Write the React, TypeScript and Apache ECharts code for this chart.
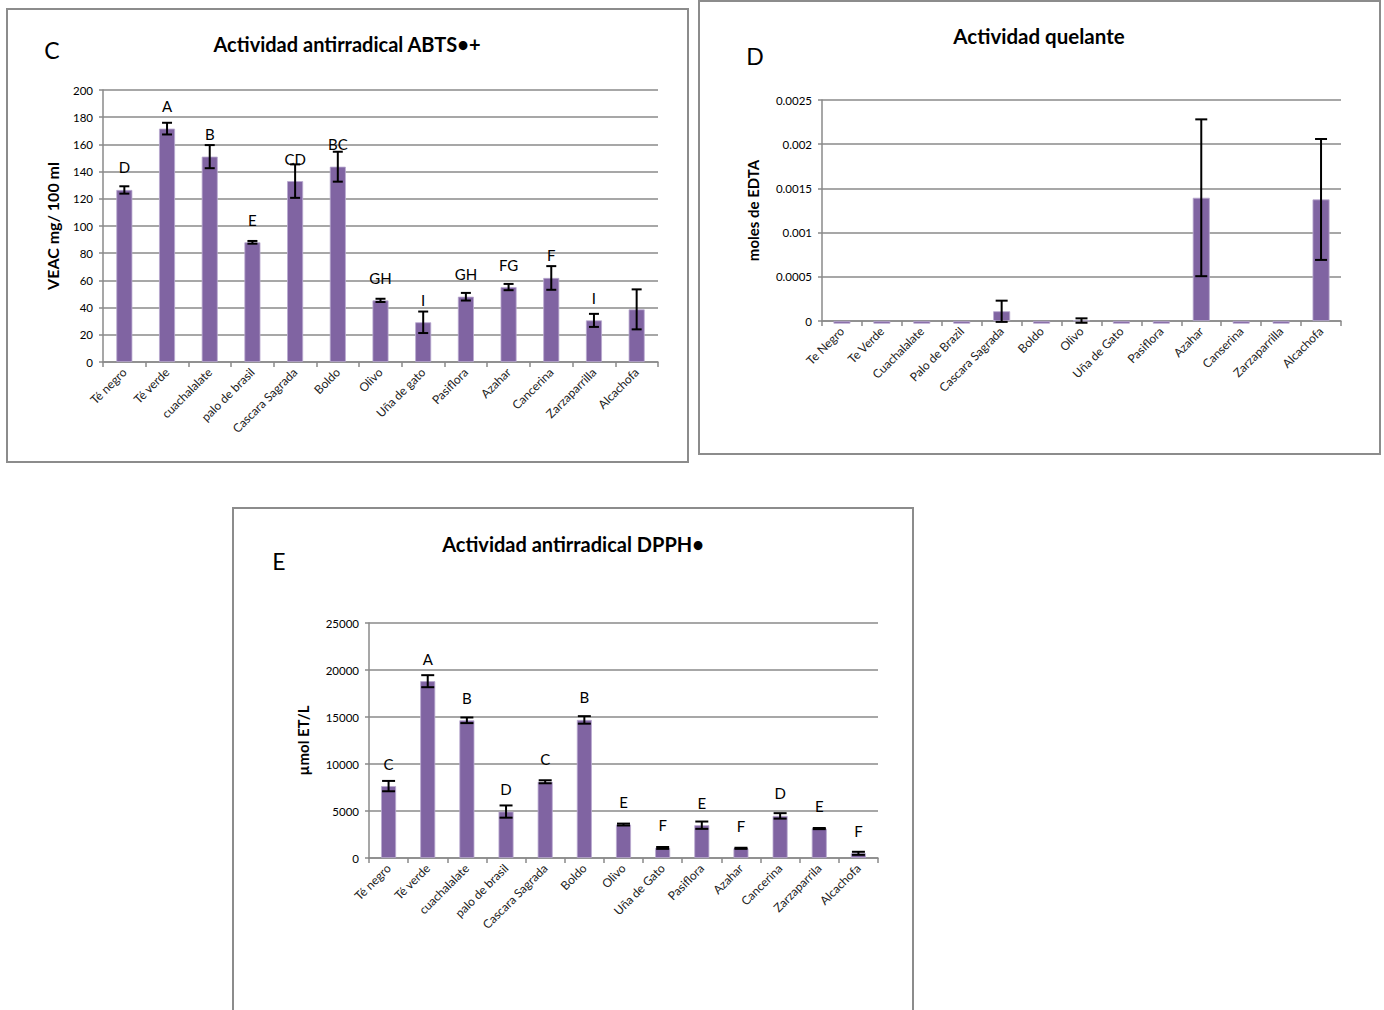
import React, { useEffect, useRef } from "react";
import * as echarts from "echarts";

// ---------- Panel C: Actividad antirradical ABTS•+ ----------
const categoriesC = ["Té negro", "Té verde", "cuachalalate", "palo de brasil", "Cascara Sagrada", "Boldo", "Olivo", "Uña de gato", "Pasiflora", "Azahar", "Cancerina", "Zarzaparrilla", "Alcachofa"];
const valuesC = [126.5, 171.6, 151, 88, 133, 143.6, 45.3, 29.2, 48, 55.1, 61.8, 30.6, 38.7];
const errorsC = [2.7, 4.3, 8.5, 1, 12.3, 11, 1.2, 7.9, 2.8, 2.3, 8.7, 4.8, 14.7];
const lettersC = ["D", "A", "B", "E", "CD", "BC", "GH", "I", "GH", "FG", "F", "I", ""];
const yTicksC = [0, 20, 40, 60, 80, 100, 120, 140, 160, 180, 200];

// ---------- Panel D: Actividad quelante ----------
const categoriesD = ["Te Negro", "Te Verde", "Cuachalalate", "Palo de Brazil", "Cascara Sagrada", "Boldo", "Olivo", "Uña de Gato", "Pasiflora", "Azahar", "Canserina", "Zarzaparrilla", "Alcachofa"];
const valuesD = [-0.00003, -0.00003, -0.00003, -0.00003, 0.00011, -0.00003, 0.000005, -0.00003, -0.00003, 0.001394, -0.00003, -0.00003, 0.001375];
const errorsD = [0, 0, 0, 0, 0.00012, 0, 0.000025, 0, 0, 0.000887, 0, 0, 0.000684];
const yTicksD = [0, 0.0005, 0.001, 0.0015, 0.002, 0.0025];

// ---------- Panel E: Actividad antirradical DPPH• ----------
const categoriesE = ["Té negro", "Té verde", "cuachalalate", "palo de brasil", "Cascara Sagrada", "Boldo", "Olivo", "Uña de Gato", "Pasiflora", "Azahar", "Cancerina", "Zarzaparrila", "Alcachofa"];
const valuesE = [7650, 18810, 14650, 4940, 8110, 14690, 3560, 1070, 3490, 1030, 4480, 3130, 500];
const errorsE = [550, 640, 300, 650, 160, 400, 100, 100, 390, 60, 290, 60, 160];
const lettersE = ["C", "A", "B", "D", "C", "B", "E", "F", "E", "F", "D", "E", "F"];
const yTicksE = [0, 5000, 10000, 15000, 20000, 25000];

const FONT = "Lato, 'Open Sans', sans-serif";
const BAR = "#8064A2";
const GRIDC = "#8a8a8a";

function errRender(capW: number) {
  return (params: any, api: any) => {
    const x = api.value(0);
    const lo = api.value(1);
    const hi = api.value(2);
    if (hi === lo) return null;
    const pLo = api.coord([x, lo]);
    const pHi = api.coord([x, hi]);
    const cx = pLo[0];
    const st = { stroke: "#000", lineWidth: 2 };
    return {
      type: "group",
      children: [
        { type: "line", shape: { x1: cx, y1: pLo[1], x2: cx, y2: pHi[1] }, style: st },
        { type: "line", shape: { x1: cx - capW / 2, y1: pHi[1], x2: cx + capW / 2, y2: pHi[1] }, style: st },
        { type: "line", shape: { x1: cx - capW / 2, y1: pLo[1], x2: cx + capW / 2, y2: pLo[1] }, style: st },
      ],
    };
  };
}

function xAxis(cats: string[], gridIndex: number) {
  return {
    type: "category",
    gridIndex,
    data: cats,
    boundaryGap: true,
    axisLine: { show: true, lineStyle: { color: GRIDC, width: 1.5 } },
    axisTick: { show: true, length: 5, lineStyle: { color: GRIDC, width: 1.5 } },
    axisLabel: { rotate: 45, fontSize: 12, color: "#222", fontFamily: FONT, margin: 8, interval: 0 },
  };
}

function yAxis(ticks: number[], gridIndex: number, name: string, nameGap: number, nameSize: number, fmt: (v: number) => string) {
  return {
    type: "value",
    gridIndex,
    min: ticks[0],
    max: ticks[ticks.length - 1],
    interval: ticks[1] - ticks[0],
    name,
    nameLocation: "middle",
    nameGap,
    nameTextStyle: { fontSize: nameSize, fontWeight: "bold", color: "#000", fontFamily: FONT },
    axisLine: { show: true, lineStyle: { color: GRIDC, width: 1.5 } },
    axisTick: { show: true, length: 4, lineStyle: { color: GRIDC, width: 1.5 } },
    axisLabel: { fontSize: 11.5, color: "#000", fontFamily: FONT, margin: 10, formatter: fmt },
    splitLine: { show: true, lineStyle: { color: GRIDC, width: 1.5 } },
  };
}

function barSeries(values: number[], idx: number, barWidth: number, letters?: string[], clip = true) {
  return {
    type: "bar",
    xAxisIndex: idx,
    yAxisIndex: idx,
    data: values,
    barWidth,
    clip,
    itemStyle: { color: BAR, borderColor: "#b9aacf", borderWidth: 0.8 },
    label: letters
      ? {
          show: true,
          position: "top",
          distance: 15,
          fontSize: 15,
          color: "#000",
          fontFamily: FONT,
          formatter: (p: any) => letters[p.dataIndex],
        }
      : { show: false },
    z: 2,
  };
}

function errSeries(values: number[], errors: number[], idx: number, capW: number) {
  return {
    type: "custom",
    xAxisIndex: idx,
    yAxisIndex: idx,
    clip: false,
    renderItem: errRender(capW),
    encode: { x: 0, y: [1, 2] },
    data: values.map((v, i) => [i, v - errors[i], v + errors[i]]),
    z: 5,
  };
}

function panelText(x: number, y: number, text: string, size: number, bold: boolean) {
  return {
    type: "text",
    x,
    y,
    style: {
      text,
      fontSize: size,
      fontWeight: bold ? "bold" : "normal",
      fontFamily: FONT,
      fill: "#000",
      align: "center",
      verticalAlign: "middle",
    },
  };
}

function border(x: number, y: number, w: number, h: number) {
  return {
    type: "rect",
    shape: { x, y, width: w, height: h },
    style: { fill: "none", stroke: "#8c8c8c", lineWidth: 2 },
    z: 0,
  };
}

export default function App() {
  const ref = useRef<HTMLDivElement>(null);
  useEffect(() => {
    if (!ref.current) return;
    const chart = echarts.init(ref.current, null, { renderer: "svg" });
    const fmtD = (v: number) => (v === 0 ? "0" : String(+v.toFixed(4)));
    const fmtPlain = (v: number) => String(v);
    chart.setOption({
      animation: false,
      backgroundColor: "#fff",
      grid: [
        { left: 103, top: 90, width: 555, height: 272 },
        { left: 822, top: 100, width: 519, height: 221 },
        { left: 369, top: 623, width: 509, height: 235 },
      ],
      xAxis: [xAxis(categoriesC, 0), xAxis(categoriesD, 1), xAxis(categoriesE, 2)],
      yAxis: [
        yAxis(yTicksC, 0, "VEAC mg/ 100 ml", 43, 16, fmtPlain),
        yAxis(yTicksD, 1, "moles de EDTA", 62, 15, fmtD),
        yAxis(yTicksE, 2, "µmol ET/L", 59, 15, fmtPlain),
      ],
      series: [
        barSeries(valuesC, 0, 16, lettersC),
        errSeries(valuesC, errorsC, 0, 10),
        barSeries(valuesD, 1, 17, undefined, false),
        errSeries(valuesD, errorsD, 1, 12),
        barSeries(valuesE, 2, 15, lettersE),
        errSeries(valuesE, errorsE, 2, 13),
      ],
      graphic: [
        border(7, 9, 681, 453),
        border(699, 1, 681, 453),
        border(233, 508, 680, 510),
        panelText(347, 44, "Actividad antirradical ABTS•+", 20, true),
        panelText(52, 50, "C", 23, false),
        panelText(1039, 36, "Actividad quelante", 20.5, true),
        panelText(755, 56, "D", 23, false),
        panelText(573, 544, "Actividad antirradical DPPH•", 20, true),
        panelText(279, 561, "E", 23, false),
      ],
    });
    return () => chart.dispose();
  }, []);
  return (
    <div
      ref={ref}
      style={{ position: "absolute", left: 0, top: 0, width: 1384, height: 1010, background: "#fff" }}
    />
  );
}
